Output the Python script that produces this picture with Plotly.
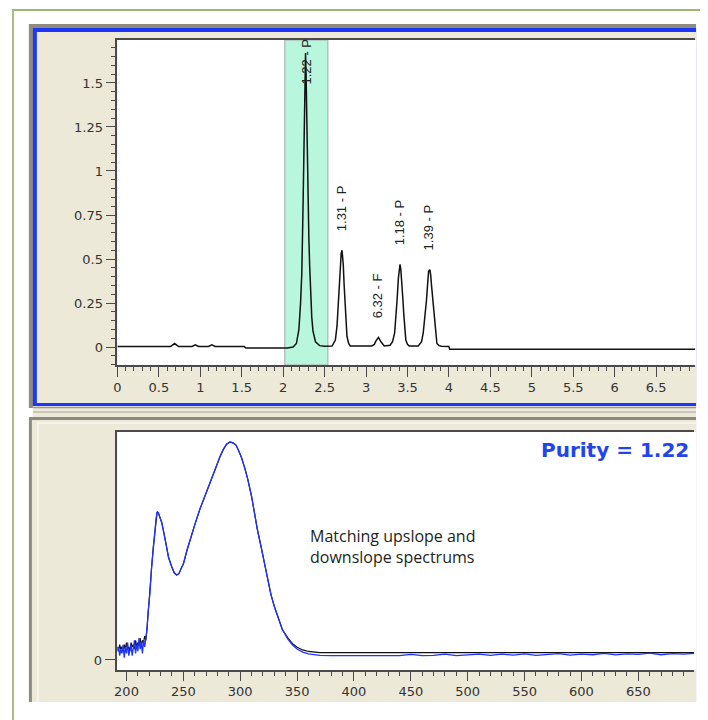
import plotly.graph_objects as go

# ---------------- data ----------------
# chromatogram (retention time in min, signal)
ret_time = [0.00, 0.64, 0.69, 0.74, 0.90, 0.94, 0.98, 1.10, 1.14, 1.18, 1.53, 1.55,
            2.05, 2.12, 2.16, 2.19, 2.21, 2.225, 2.24, 2.25, 2.258, 2.265, 2.27, 2.276,
            2.283, 2.29, 2.30, 2.31, 2.32, 2.335, 2.345, 2.36, 2.39, 2.44, 2.50,
            2.59, 2.63, 2.65, 2.665, 2.68, 2.69, 2.70, 2.71, 2.718, 2.725, 2.735, 2.745,
            2.76, 2.77, 2.79, 2.81,
            3.07, 3.10, 3.12, 3.15, 3.18, 3.20, 3.22,
            3.29, 3.32, 3.345, 3.36, 3.375, 3.39, 3.40, 3.41, 3.42, 3.435, 3.445, 3.455,
            3.47, 3.48, 3.50, 3.52,
            3.63, 3.67, 3.69, 3.71, 3.73, 3.745, 3.755, 3.77, 3.78, 3.79, 3.80, 3.815,
            3.83, 3.845, 3.855, 3.88, 3.91, 4.00, 4.01, 6.97]
signal = [0.003, 0.003, 0.020, 0.003, 0.003, 0.012, 0.003, 0.003, 0.012, 0.003, 0.003, -0.006,
          -0.006, 0.000, 0.020, 0.100, 0.250, 0.420, 0.800, 1.050, 1.350, 1.560, 1.670, 1.560,
          1.300, 1.100, 0.840, 0.620, 0.460, 0.250, 0.170, 0.090, 0.030, 0.008, 0.004,
          0.006, 0.040, 0.120, 0.250, 0.400, 0.490, 0.530, 0.550, 0.520, 0.470, 0.360, 0.250,
          0.120, 0.060, 0.020, 0.006,
          0.006, 0.015, 0.035, 0.055, 0.030, 0.015, 0.006,
          0.010, 0.030, 0.080, 0.160, 0.270, 0.390, 0.450, 0.470, 0.440, 0.360, 0.270, 0.190,
          0.080, 0.040, 0.015, 0.006,
          0.006, 0.030, 0.080, 0.160, 0.270, 0.370, 0.430, 0.440, 0.410, 0.350, 0.300, 0.200,
          0.115, 0.050, 0.020, 0.008, 0.004, 0.003, -0.012, -0.012]

# integrated peaks: apex time, apex height, purity label
peak_times = [2.27, 2.71, 3.15, 3.41, 3.77]
peak_heights = [1.67, 0.55, 0.055, 0.47, 0.44]
peak_labels = ["1.22 - P", "1.31 - P", "6.32 - F", "1.18 - P", "1.39 - P"]

# selected peak window (highlight)
window_start = 2.02
window_end = 2.54

purity_value = 1.22

# UV spectra (wavelength nm, normalised absorbance)
wavelength = [192, 193, 194, 195, 196, 197, 198, 199, 200, 201, 202, 203, 204, 205, 206,
              207, 208, 209, 210, 211, 212, 213, 214, 215, 216, 217,
              218, 219, 220.7, 222, 223.6, 225, 226, 227, 228, 229, 231, 233, 235, 237,
              239.6, 242, 244, 246, 248, 250, 253, 255.7, 260, 264.4, 269, 273, 278, 282,
              285, 288, 291, 294, 296.4, 299, 301, 304, 306.6, 310, 312.5, 315, 318.3, 321,
              324, 327, 330, 334, 337, 342, 346, 350, 355, 360, 365, 370,
              380, 390, 400, 410, 420, 430, 440, 450, 460, 470, 480, 490, 500, 510, 520,
              530, 540, 550, 560, 570, 580, 590, 600, 610, 620, 630, 640, 650, 660, 670,
              680, 690, 700]
downslope_abs = [0.04, 0.06, 0.02, 0.05, 0.03, 0.07, 0.01, 0.06, 0.03, 0.08, 0.02, 0.05, 0.07,
                 0.02, 0.06, 0.09, 0.03, 0.07, 0.04, 0.10, 0.05, 0.08, 0.03, 0.09, 0.06, 0.10,
                 0.14, 0.22, 0.31, 0.42, 0.52, 0.60, 0.65, 0.68, 0.675, 0.66, 0.63, 0.58, 0.52,
                 0.47, 0.43, 0.40, 0.39, 0.395, 0.42, 0.44, 0.50, 0.55, 0.62, 0.69, 0.75, 0.81,
                 0.875, 0.93, 0.965, 0.99, 1.0, 0.995, 0.985, 0.955, 0.93, 0.88, 0.83, 0.75,
                 0.67, 0.60, 0.52, 0.45, 0.37, 0.30, 0.245, 0.18, 0.14, 0.095, 0.069, 0.050,
                 0.036, 0.028, 0.024, 0.021,
                 0.020, 0.020, 0.021, 0.020, 0.020, 0.021, 0.020, 0.026, 0.020, 0.021, 0.027,
                 0.020, 0.025, 0.027, 0.021, 0.027, 0.022, 0.028, 0.021, 0.026, 0.029, 0.022,
                 0.027, 0.024, 0.030, 0.023, 0.028, 0.026, 0.031, 0.024, 0.029, 0.027, 0.030]
upslope_abs = [0.06, 0.04, 0.07, 0.05, 0.06, 0.04, 0.07, 0.05, 0.08, 0.05, 0.06, 0.04, 0.08,
               0.06, 0.07, 0.05, 0.09, 0.06, 0.08, 0.07, 0.10, 0.06, 0.09, 0.08, 0.11, 0.09,
               0.14, 0.22, 0.31, 0.42, 0.52, 0.60, 0.65, 0.68, 0.675, 0.66, 0.63, 0.58, 0.52,
               0.47, 0.43, 0.40, 0.39, 0.395, 0.42, 0.44, 0.50, 0.55, 0.62, 0.69, 0.75, 0.81,
               0.875, 0.93, 0.965, 0.99, 1.0, 0.995, 0.985, 0.955, 0.93, 0.88, 0.83, 0.75,
               0.67, 0.60, 0.52, 0.45, 0.37, 0.30, 0.245, 0.18, 0.14, 0.10, 0.075, 0.058,
               0.046, 0.039, 0.035, 0.034,
               0.034, 0.034, 0.034, 0.034, 0.034, 0.034, 0.034, 0.034, 0.034, 0.034, 0.034,
               0.034, 0.034, 0.034, 0.034, 0.034, 0.034, 0.034, 0.034, 0.034, 0.034, 0.034,
               0.034, 0.034, 0.034, 0.034, 0.034, 0.034, 0.034, 0.034, 0.034, 0.034, 0.034]

note_text = "Matching upslope and<br>downslope spectrums"

# ---------------- layout helpers (window pixel -> paper) ----------------
# the page body has an 8px margin, so the figure starts 8px into the window
OFF = 8
W, H = 700, 712


def fx(x):
    return (x - OFF) / W


def fy(y):
    return 1 - (y - OFF) / H


GREY = "#8D8A7F"
BEIGE = "#ECE9D8"
BLUE = "#1C37FA"
AXC = "#4A4A4A"
TICKFONT = dict(family="DejaVu Sans", size=13, color="#333333")


def rect(x0, y0, x1, y1, color):
    return dict(type="rect", xref="paper", yref="paper", x0=fx(x0), x1=fx(x1),
                y0=fy(y1), y1=fy(y0), fillcolor=color, line=dict(width=0), layer="below")


def hline(x0, x1, y, color, w=1):
    return dict(type="line", xref="paper", yref="paper", x0=fx(x0), x1=fx(x1),
                y0=fy(y), y1=fy(y), line=dict(color=color, width=w), layer="below")


def vline(x, y0, y1, color, w=1):
    return dict(type="line", xref="paper", yref="paper", x0=fx(x), x1=fx(x),
                y0=fy(y0), y1=fy(y1), line=dict(color=color, width=w), layer="below")


shapes = [
    # outer page frame
    hline(8, 708, 10, "#7E9E40", 1.5),
    vline(9, 10, 720, "#AABD86", 2),
    # top (chromatogram) panel
    rect(25, 24, 696, 408, GREY),
    rect(29, 28, 696, 406, BLUE),
    rect(33, 32, 696, 403, BEIGE),
    # splitter
    rect(29, 406, 696, 417, BEIGE),
    hline(29, 696, 407.5, "#9D9A90", 1.5),
    hline(29, 696, 412, "#A8A599", 1),
    # bottom (spectrum) panel
    rect(25, 417, 696, 702, GREY),
    rect(28, 420, 696, 702, BEIGE),
    hline(33, 696, 423, "#F8F7F2", 1.5),
    vline(34, 423, 702, "#F8F7F2", 1.5),
    # plot areas
    rect(114, 40, 696, 365, "white"),
    rect(114, 432, 696, 670, "white"),
    # selected peak window
    dict(type="rect", xref="x", yref="y domain", x0=window_start, x1=window_end,
         y0=0, y1=1, fillcolor="#B9F6DE", line=dict(color="#A7A7A7", width=1),
         layer="below"),
]

fig = go.Figure()

fig.add_trace(go.Scatter(x=ret_time, y=signal, mode="lines",
                         line=dict(color="#111111", width=1.5),
                         xaxis="x", yaxis="y", hoverinfo="skip"))
fig.add_trace(go.Scatter(x=wavelength, y=upslope_abs, mode="lines",
                         line=dict(color="#111111", width=1.2),
                         xaxis="x2", yaxis="y2", hoverinfo="skip"))
fig.add_trace(go.Scatter(x=wavelength, y=downslope_abs, mode="lines",
                         line=dict(color="#1F33FF", width=1.3),
                         xaxis="x2", yaxis="y2", hoverinfo="skip"))

# peak labels
annotations = []
Y0_PX, PX_PER_UNIT, TOP_PX, LABEL_LEN, GAP = 347, 176, 40, 47, 17
for t, h, lab in zip(peak_times, peak_heights, peak_labels):
    apex_px = Y0_PX - h * PX_PER_UNIT
    if apex_px - GAP - LABEL_LEN < TOP_PX:
        annotations.append(dict(x=t, y=1, xref="x", yref="y domain", text=lab,
                                textangle=-90, showarrow=False, xanchor="center",
                                yanchor="top", yshift=3,
                                font=dict(family="Liberation Sans", size=13, color="#222")))
    else:
        annotations.append(dict(x=t, y=h, xref="x", yref="y", text=lab,
                                textangle=-90, showarrow=False, xanchor="center",
                                yanchor="bottom", yshift=GAP, xshift=-1,
                                font=dict(family="Liberation Sans", size=13, color="#222")))

annotations.append(dict(x=fx(691), y=fy(450), xref="paper", yref="paper",
                        text=f"<b>Purity = {purity_value:.2f}</b>", showarrow=False,
                        xanchor="right", yanchor="middle",
                        font=dict(family="DejaVu Sans", size=20, color="#2244EE")))
annotations.append(dict(x=fx(306), y=fy(546.5), xref="paper", yref="paper",
                        text=note_text, showarrow=False, align="left",
                        xanchor="left", yanchor="middle",
                        font=dict(family="Open Sans", size=16, color="#231F20")))

common_axis = dict(showgrid=False, zeroline=False, showline=True, linecolor=AXC,
                   linewidth=1.5, ticks="outside", tickcolor=AXC, tickwidth=1.2,
                   tickfont=TICKFONT, fixedrange=True)

fig.update_layout(
    width=W, height=H, margin=dict(l=0, r=0, t=0, b=0),
    paper_bgcolor="white", plot_bgcolor="rgba(0,0,0,0)",
    showlegend=False, shapes=shapes, annotations=annotations,
    xaxis=dict(domain=[fx(114), fx(695)], range=[0, 6.97], anchor="y", mirror=True,
               tickmode="linear", tick0=0, dtick=0.5, ticklen=10,
               minor=dict(dtick=0.1, tick0=0, ticks="outside", ticklen=4,
                          tickcolor=AXC, tickwidth=1),
               **common_axis),
    yaxis=dict(domain=[fy(365), fy(40)], range=[-0.102, 1.744], anchor="x",
               tickmode="linear", tick0=0, dtick=0.25, ticklen=10,
               minor=dict(dtick=0.05, tick0=0, ticks="outside", ticklen=5,
                          tickcolor=AXC, tickwidth=1),
               **common_axis),
    xaxis2=dict(domain=[fx(114), fx(694)], range=[192, 699], anchor="y2", mirror=True,
                tickmode="linear", tick0=0, dtick=50, ticklen=9,
                minor=dict(dtick=10, tick0=0, ticks="outside", ticklen=4,
                           tickcolor=AXC, tickwidth=1),
                **common_axis),
    yaxis2=dict(domain=[fy(670), fy(432)], range=[-0.046, 1.046], anchor="x2",
                tickvals=[0], ticktext=["0"], ticklen=11,
                **common_axis),
)

fig.write_html("out.html")
